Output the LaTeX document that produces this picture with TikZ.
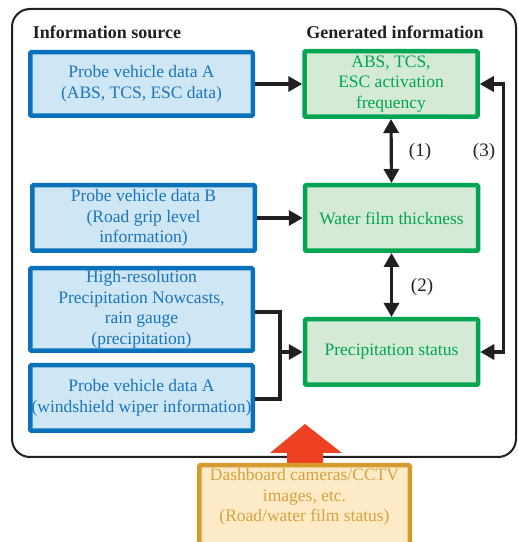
\documentclass[tikz,border=0pt]{standalone}
\usepackage{fontspec}
\setmainfont{Liberation Serif}
\usetikzlibrary{arrows.meta}
\definecolor{srcline}{HTML}{0A72BA}
\definecolor{srcfill}{HTML}{CFE6F4}
\definecolor{srctext}{HTML}{1B75BC}
\definecolor{genline}{HTML}{00A651}
\definecolor{genfill}{HTML}{D5EAD6}
\definecolor{gentext}{HTML}{00A651}
\definecolor{camline}{HTML}{D59B2D}
\definecolor{camfill}{HTML}{FDEAC6}
\definecolor{camtext}{HTML}{D8A23F}
\definecolor{bigarrow}{HTML}{EE4023}
\definecolor{ink}{HTML}{231F20}
\tikzset{
  x=1pt, y=1pt,
  boxfont/.style={font=\fontsize{17.5}{20.5}\selectfont, align=center, inner sep=0pt},
  srcbox/.style={boxfont, draw=srcline, fill=srcfill, text=srctext, line width=4.5pt,
    rounded corners=1pt, minimum width=222.5pt},
  genbox/.style={boxfont, draw=genline, fill=genfill, text=gentext, line width=4.5pt,
    rounded corners=1pt, minimum width=173pt, minimum height=65.5pt},
  cambox/.style={draw=camline, fill=camfill, line width=4.5pt, rounded corners=1pt},
  heading/.style={font=\fontsize{18}{20}\selectfont\bfseries, text=ink},
  flow/.style={draw=ink, line width=3.2pt, -{Triangle[length=14pt 0 0,width=15pt 0 0]}},
  biflow/.style={draw=ink, line width=3.2pt,
    {Triangle[length=14pt 0 0,width=15pt 0 0]}-{Triangle[length=14pt 0 0,width=15pt 0 0]}},
  numlabel/.style={font=\fontsize{19}{20}\selectfont, text=ink},
}
\begin{document}
\begin{tikzpicture}
\clip (0,0) rectangle (518,542);

% frame around sources and generated information
\draw[ink, line width=2pt, rounded corners=18pt] (12,85) rectangle (516,533);

\node[heading] (hsrc) at (107,510) {Information source};
\node[heading] (hgen) at (395,510) {Generated information};

% information sources
\node[srcbox, minimum height=63.5pt] (pa) at (141.5,458) {Probe vehicle data A\\(ABS, TCS, ESC data)};
\node[srcbox, minimum height=65.5pt] (pb) at (143.5,324) {Probe vehicle data B\\(Road grip level\\information)};
\node[srcbox, minimum height=82.5pt] (hr) at (141.5,232.5) {High-resolution\\Precipitation Nowcasts,\\rain gauge\\(precipitation)};
\node[srcbox, minimum height=65.5pt] (pw) at (141.5,144) {Probe vehicle data A\\(windshield wiper information)};

% generated information
\node[genbox] (ga) at (391,458) {ABS, TCS,\\ESC activation\\frequency};
\node[genbox] (gw) at (391.5,324) {Water film thickness};
\node[genbox] (gp) at (391.5,190) {Precipitation status};

% image source below the frame
\fill[bigarrow] (305,118) -- (342,89) -- (323,89) -- (323,70) -- (287,70) -- (287,89) -- (270,89) -- cycle;
\draw[cambox] (199.25,-20) rectangle (409.75,76.75);
\node[boxfont, text=camtext, anchor=north] (cam) at (304.5,73.5) {Dashboard cameras/CCTV\\images, etc.\\(Road/water film status)};

% connectors
\draw[flow] (pa.east) -- (ga.west);
\draw[flow] (pb.east) -- (gw.west);
\coordinate (join) at (280,190);
\draw[ink, line width=3.2pt] (hr.east |- 0,230) -| (join);
\draw[ink, line width=3.2pt] (pw.east |- 0,143) -| (join);
\draw[flow] (join) -- (gp.west);
\draw[biflow] (ga.south) -- (gw.north);
\draw[biflow] (gw.south) -- (gp.north);
\draw[biflow] (gp.east) -- ++(23,0) |- (ga.east);

\node[numlabel] (l1) at (420,390) {(1)};
\node[numlabel] (l2) at (422,255) {(2)};
\node[numlabel] (l3) at (484,390) {(3)};
\end{tikzpicture}
\end{document}
